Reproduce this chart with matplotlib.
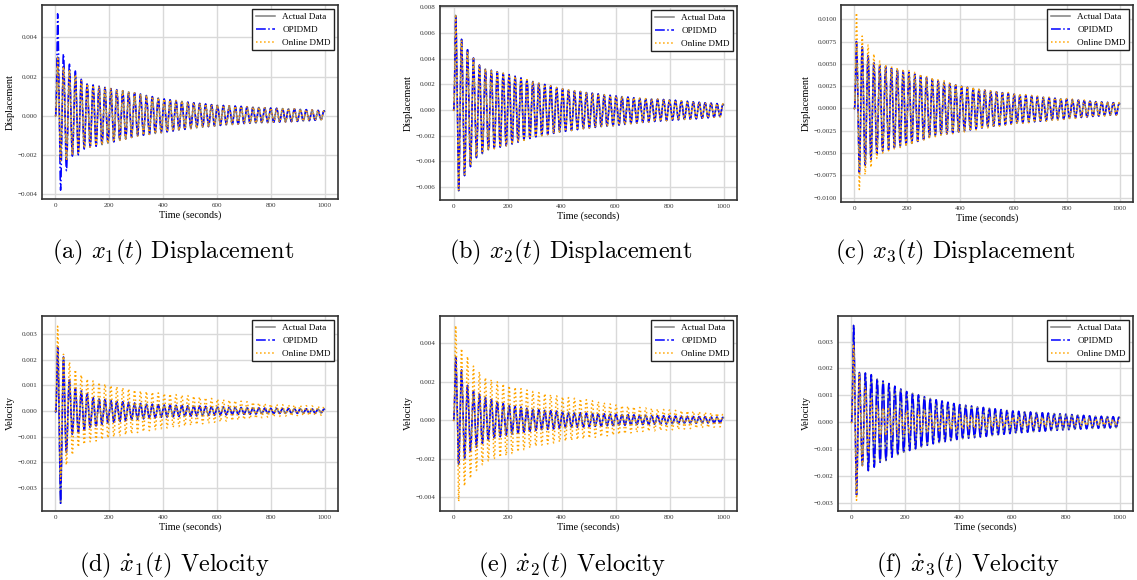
import numpy as np
import matplotlib
matplotlib.use('Agg')
import matplotlib.pyplot as plt
import matplotlib.ticker as mticker

# Envelope readings (units of 1e-3), at peak / trough times
T_UP = [0, 8, 30, 52, 74, 96, 118, 140, 200, 300, 400, 500, 600, 700, 800, 900, 1000]
T_LO = [0, 19, 41, 63, 85, 107, 129, 151, 200, 300, 400, 500, 600, 700, 800, 900, 1000]
PERIOD = 22.0
SCALE = 1e-3

# (a) x1 displacement
A_OPI_UP = [0, 5.2, 3.14, 2.63, 2.28, 1.86, 1.66, 1.57, 1.40, 1.15, 0.86, 0.68, 0.54, 0.47, 0.39, 0.34, 0.25]
A_OPI_LO = [0, -3.8, -2.8, -2.06, -2.0, -1.7, -1.64, -1.56, -1.39, -1.05, -0.85, -0.66, -0.51, -0.40, -0.34, -0.29, -0.20]
A_ACT_UP = [0, 3.0, 2.5, 2.3, 2.1, 1.8, 1.62, 1.55, 1.40, 1.15, 0.86, 0.68, 0.54, 0.47, 0.39, 0.34, 0.25]
A_ACT_LO = [0, -2.3, -2.3, -2.0, -1.9, -1.65, -1.6, -1.55, -1.39, -1.05, -0.85, -0.66, -0.51, -0.40, -0.34, -0.29, -0.20]
A_ONL_UP = A_ACT_UP
A_ONL_LO = A_ACT_LO

# (b) x2 displacement
B_OPI_UP = [0, 7.38, 5.5, 4.7, 4.05, 3.5, 3.2, 3.1, 2.8, 2.2, 1.66, 1.35, 1.1, 0.9, 0.8, 0.62, 0.47]
B_OPI_LO = [0, -6.3, -5.1, -4.4, -3.7, -3.4, -3.1, -3.0, -2.75, -2.1, -1.7, -1.4, -1.2, -0.96, -0.8, -0.68, -0.5]
B_ACT_UP = B_OPI_UP
B_ACT_LO = B_OPI_LO
B_ONL_UP = [0, 7.3, 5.4, 4.6, 4.0, 3.45, 3.2, 3.05, 2.8, 2.2, 1.66, 1.35, 1.1, 0.9, 0.8, 0.62, 0.47]
B_ONL_LO = [0, -6.2, -5.0, -4.3, -3.65, -3.35, -3.1, -3.0, -2.75, -2.1, -1.7, -1.4, -1.2, -0.96, -0.8, -0.68, -0.5]

# (c) x3 displacement
C_OPI_UP = [0, 7.5, 6.9, 5.9, 5.1, 4.8, 4.7, 4.5, 4.1, 3.2, 2.5, 2.0, 1.6, 1.27, 1.04, 0.78, 0.6]
C_OPI_LO = [0, -7.2, -6.4, -5.7, -5.1, -4.8, -4.6, -4.4, -4.1, -3.1, -2.6, -2.1, -1.7, -1.45, -1.16, -0.9, -0.7]
C_ACT_UP = C_OPI_UP
C_ACT_LO = C_OPI_LO
C_ONL_UP = [0, 10.7, 8.1, 7.1, 6.1, 5.3, 4.9, 4.7, 4.3, 3.4, 2.65, 2.1, 1.7, 1.35, 1.1, 0.85, 0.65]
C_ONL_LO = [0, -9.1, -7.4, -6.6, -5.6, -5.0, -4.75, -4.55, -4.2, -3.2, -2.7, -2.2, -1.75, -1.5, -1.2, -0.95, -0.72]

# (d) x1 velocity
D_OPI_UP = [0, 2.5, 2.1, 1.2, 0.88, 0.78, 0.68, 0.52, 0.42, 0.30, 0.23, 0.20, 0.16, 0.13, 0.10, 0.09, 0.07]
D_OPI_LO = [0, -3.6, -1.6, -0.9, -0.85, -0.75, -0.65, -0.58, -0.46, -0.33, -0.24, -0.20, -0.16, -0.13, -0.10, -0.09, -0.08]
D_ACT_UP = D_OPI_UP
D_ACT_LO = D_OPI_LO
D_ONL_UP = [0, 3.3, 2.2, 1.9, 1.6, 1.4, 1.24, 1.17, 1.0, 0.8, 0.68, 0.59, 0.46, 0.37, 0.26, 0.22, 0.17]
D_ONL_LO = [0, -2.7, -2.1, -1.7, -1.4, -1.3, -1.2, -1.17, -1.04, -0.85, -0.68, -0.56, -0.43, -0.33, -0.23, -0.18, -0.16]

# (e) x2 velocity
E_OPI_UP = [0, 3.3, 2.6, 1.8, 1.5, 1.35, 1.2, 1.08, 0.79, 0.57, 0.45, 0.36, 0.31, 0.26, 0.22, 0.19, 0.15]
E_OPI_LO = [0, -2.3, -2.0, -1.6, -1.4, -1.2, -1.05, -0.93, -0.75, -0.53, -0.41, -0.33, -0.27, -0.22, -0.19, -0.15, -0.12]
E_ACT_UP = E_OPI_UP
E_ACT_LO = E_OPI_LO
E_ONL_UP = [0, 4.9, 3.7, 3.3, 2.8, 2.5, 2.2, 2.1, 1.8, 1.47, 1.22, 1.05, 0.79, 0.65, 0.53, 0.45, 0.33]
E_ONL_LO = [0, -4.2, -3.4, -3.0, -2.6, -2.3, -2.1, -2.0, -1.8, -1.35, -1.1, -0.93, -0.75, -0.58, -0.5, -0.41, -0.33]

# (f) x3 velocity
F_OPI_UP = [0, 3.6, 1.83, 1.83, 1.77, 1.61, 1.53, 1.44, 1.16, 0.87, 0.66, 0.54, 0.42, 0.36, 0.30, 0.23, 0.20]
F_OPI_LO = [0, -2.7, -1.6, -1.8, -1.67, -1.49, -1.43, -1.3, -1.1, -0.81, -0.63, -0.53, -0.41, -0.34, -0.28, -0.23, -0.20]
F_ACT_UP = F_OPI_UP
F_ACT_LO = F_OPI_LO
F_ONL_UP = [0, 2.9, 1.8, 1.28, 0.85, 0.6, 0.54, 0.5, 0.42, 0.36, 0.28, 0.23, 0.20, 0.17, 0.14, 0.11, 0.09]
F_ONL_LO = [0, -2.9, -1.6, -1.1, -0.7, -0.57, -0.5, -0.48, -0.41, -0.32, -0.26, -0.22, -0.18, -0.16, -0.13, -0.11, -0.10]

CAPTIONS = [r'(a) $x_1(t)$ Displacement', r'(b) $x_2(t)$ Displacement',
            r'(c) $x_3(t)$ Displacement', r'(d) $\dot{x}_1(t)$ Velocity',
            r'(e) $\dot{x}_2(t)$ Velocity', r'(f) $\dot{x}_3(t)$ Velocity']
YLABELS = ['Displacement'] * 3 + ['Velocity'] * 3
LEGEND = ['Actual Data', 'OPIDMD', 'Online DMD']

PANELS = [
    (A_ACT_UP, A_ACT_LO, A_OPI_UP, A_OPI_LO, A_ONL_UP, A_ONL_LO),
    (B_ACT_UP, B_ACT_LO, B_OPI_UP, B_OPI_LO, B_ONL_UP, B_ONL_LO),
    (C_ACT_UP, C_ACT_LO, C_OPI_UP, C_OPI_LO, C_ONL_UP, C_ONL_LO),
    (D_ACT_UP, D_ACT_LO, D_OPI_UP, D_OPI_LO, D_ONL_UP, D_ONL_LO),
    (E_ACT_UP, E_ACT_LO, E_OPI_UP, E_OPI_LO, E_ONL_UP, E_ONL_LO),
    (F_ACT_UP, F_ACT_LO, F_OPI_UP, F_OPI_LO, F_ONL_UP, F_ONL_LO),
]

# Axes boxes in pixels (left, right, top, bottom) and y ranges
BOXES = [(42, 338, 5, 199), (440, 737, 6, 200), (841, 1133, 5, 202),
         (42, 338, 316, 511), (440, 737, 316, 511), (838, 1133, 316, 511)]
YLIMS = [(-0.00425, 0.00565), (-0.0070, 0.0081), (-0.0105, 0.0116),
         (-0.0039, 0.0037), (-0.0047, 0.0054), (-0.0033, 0.00395)]
YSTEPS = [0.002, 0.002, 0.0025, 0.001, 0.002, 0.001]
CAP_POS = [(173, 252), (571, 252), (955, 252), (174, 565), (572, 565), (968, 565)]

W, H = 1137, 580

plt.rcParams['font.family'] = ['Liberation Serif', 'DejaVu Serif']
plt.rcParams['mathtext.fontset'] = 'cm'

t = np.linspace(0, 1000, 10001)
carrier = np.cos(2 * np.pi * (t - 8) / PERIOD)


def trace(up, lo):
    u = np.interp(t, T_UP, up) * SCALE
    l = np.interp(t, T_LO, lo) * SCALE
    return (u + l) / 2 + (u - l) / 2 * carrier


fig = plt.figure(figsize=(W / 100, H / 100), dpi=100)

for i, panel in enumerate(PANELS):
    left, right, top, bottom = BOXES[i]
    ax = fig.add_axes([left / W, 1 - bottom / H, (right - left) / W, (bottom - top) / H])
    act_up, act_lo, opi_up, opi_lo, onl_up, onl_lo = panel

    ax.plot(t, trace(act_up, act_lo), color='gray', lw=1.1, label=LEGEND[0])
    ax.plot(t, trace(opi_up, opi_lo), color='blue', lw=1.1, ls='-.', label=LEGEND[1])
    ax.plot(t, trace(onl_up, onl_lo), color='orange', lw=1.1, ls=':', label=LEGEND[2])

    ax.set_xlim(-50, 1050)
    ax.set_ylim(*YLIMS[i])
    ax.xaxis.set_major_locator(mticker.MultipleLocator(200))
    ax.yaxis.set_major_locator(mticker.MultipleLocator(YSTEPS[i]))
    ax.grid(color='#d9d9d9', lw=1.0)
    ax.set_axisbelow(True)
    ax.tick_params(length=0, labelsize=5, pad=3, colors='#333333')
    for s in ax.spines.values():
        s.set_color('#333333')
        s.set_linewidth(1.2)
    ax.set_xlabel('Time (seconds)', fontsize=7.3, labelpad=1.5)
    ax.set_ylabel(YLABELS[i], fontsize=7.3, labelpad=2)

    leg = ax.legend(loc='upper right', fontsize=6.6, fancybox=False,
                    framealpha=1, edgecolor='#222222', borderaxespad=0.4,
                    handlelength=2.1)
    leg.get_frame().set_linewidth(1.0)

    cx, cy = CAP_POS[i]
    fig.text(cx / W, 1 - cy / H, CAPTIONS[i], family='cmr10', fontsize=17.5,
             ha='center', va='center')

fig.savefig('out.png', dpi=100)
